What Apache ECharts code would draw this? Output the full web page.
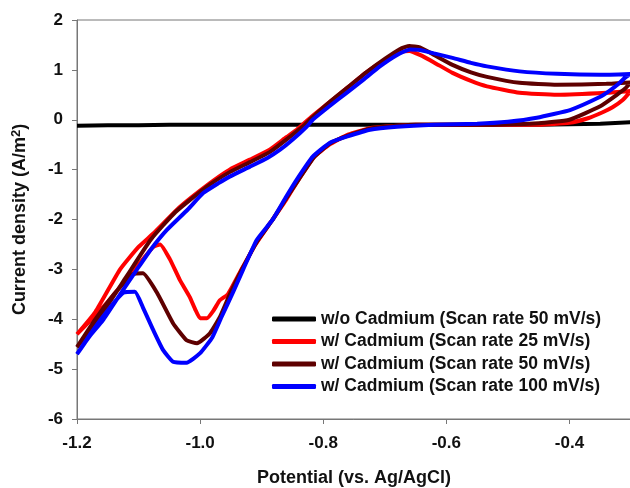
<!DOCTYPE html>
<html>
<head>
<meta charset="utf-8">
<script src="https://cdn.jsdelivr.net/npm/echarts@6/dist/echarts.min.js"></script>
<style>
  html, body { margin: 0; padding: 0; background: #fff; }
  #main { width: 630px; height: 488px; }
</style>
</head>
<body>
<div id="main"></div>
<script>
// 数据: 每条曲线 [电位 V, 电流密度 A/m2], 按扫描顺序
var names = [
  'w/o Cadmium (Scan rate 50 mV/s)',
  'w/ Cadmium (Scan rate 25 mV/s)',
  'w/ Cadmium (Scan rate 50 mV/s)',
  'w/ Cadmium (Scan rate 100 mV/s)'
];
var colors = ['#000000', '#ff0000', '#5e0000', '#0000ff'];

var noCd50 = [
  [-1.2, -0.12], [-1.15, -0.11], [-1.1, -0.11], [-1.05, -0.1], [-1.0, -0.1],
  [-0.95, -0.1], [-0.9, -0.1], [-0.85, -0.1], [-0.8, -0.1], [-0.75, -0.1],
  [-0.7, -0.1], [-0.6, -0.1], [-0.5, -0.1], [-0.45, -0.1], [-0.4, -0.09],
  [-0.35, -0.08], [-0.3, -0.05]
];

var cd25 = [
  [-0.3, 0.58], [-0.313, 0.4], [-0.33, 0.25], [-0.346, 0.15], [-0.37, 0.03],
  [-0.4, -0.06], [-0.45, -0.1], [-0.55, -0.1], [-0.65, -0.1], [-0.72, -0.16],
  [-0.76, -0.3], [-0.79, -0.5], [-0.815, -0.75], [-0.84, -1.2], [-0.86, -1.6],
  [-0.885, -2.05], [-0.91, -2.5], [-0.935, -3.05], [-0.955, -3.5], [-0.968, -3.62],
  [-0.978, -3.82], [-0.989, -3.98], [-1.0, -3.98], [-1.008, -3.8], [-1.017, -3.55],
  [-1.033, -3.21], [-1.049, -2.8], [-1.065, -2.5], [-1.076, -2.55], [-1.09, -2.75],
  [-1.12, -3.2], [-1.15, -3.65], [-1.18, -4.05], [-1.2, -4.3],
  [-1.17, -3.85], [-1.13, -3.0], [-1.1, -2.55], [-1.076, -2.28], [-1.033, -1.75],
  [-0.984, -1.27], [-0.952, -1.0], [-0.919, -0.8], [-0.887, -0.6], [-0.86, -0.35],
  [-0.843, -0.2], [-0.82, 0.05], [-0.79, 0.35], [-0.76, 0.65], [-0.73, 0.95],
  [-0.7, 1.2], [-0.675, 1.35], [-0.66, 1.38], [-0.643, 1.3], [-0.62, 1.15],
  [-0.59, 0.94], [-0.56, 0.78], [-0.534, 0.67], [-0.481, 0.54], [-0.42, 0.5],
  [-0.34, 0.54], [-0.3, 0.58]
];

var cd50 = [
  [-0.3, 0.75], [-0.31, 0.62], [-0.323, 0.5], [-0.35, 0.27], [-0.4, 0.0],
  [-0.45, -0.07], [-0.55, -0.1], [-0.65, -0.1], [-0.72, -0.17], [-0.76, -0.32],
  [-0.79, -0.48], [-0.815, -0.75], [-0.84, -1.2], [-0.86, -1.57], [-0.883, -2.02],
  [-0.908, -2.45], [-0.932, -3.0], [-0.95, -3.45], [-0.968, -3.96], [-0.984, -4.28],
  [-1.005, -4.48], [-1.022, -4.42], [-1.044, -4.08], [-1.07, -3.47], [-1.093, -3.08],
  [-1.11, -3.1], [-1.14, -3.5], [-1.17, -4.0], [-1.2, -4.56],
  [-1.16, -3.9], [-1.12, -3.15], [-1.08, -2.4], [-1.04, -1.85], [-0.99, -1.35],
  [-0.952, -1.05], [-0.919, -0.85], [-0.887, -0.65], [-0.86, -0.4], [-0.83, -0.1],
  [-0.82, 0.02], [-0.79, 0.35], [-0.76, 0.65], [-0.73, 0.95], [-0.7, 1.22],
  [-0.675, 1.42], [-0.66, 1.48], [-0.643, 1.45], [-0.62, 1.3], [-0.59, 1.1],
  [-0.56, 0.95], [-0.534, 0.86], [-0.481, 0.74], [-0.42, 0.7], [-0.34, 0.72],
  [-0.3, 0.75]
];

var cd100 = [
  [-0.3, 0.92], [-0.31, 0.84], [-0.32, 0.72], [-0.335, 0.58], [-0.35, 0.46],
  [-0.398, 0.2], [-0.453, 0.04], [-0.5, -0.04], [-0.55, -0.08], [-0.62, -0.1],
  [-0.68, -0.14], [-0.724, -0.2], [-0.762, -0.34], [-0.789, -0.46], [-0.817, -0.74],
  [-0.843, -1.2], [-0.86, -1.54], [-0.882, -2.0], [-0.908, -2.41], [-0.93, -3.0],
  [-0.947, -3.47], [-0.965, -3.95], [-0.98, -4.36], [-1.0, -4.68], [-1.022, -4.87],
  [-1.044, -4.85], [-1.06, -4.62], [-1.076, -4.22], [-1.093, -3.76], [-1.106, -3.45],
  [-1.125, -3.47], [-1.146, -3.76], [-1.174, -4.22], [-1.2, -4.7],
  [-1.18, -4.35], [-1.158, -4.02], [-1.13, -3.5], [-1.103, -3.01], [-1.08, -2.6],
  [-1.054, -2.21], [-1.02, -1.8], [-0.995, -1.47], [-0.97, -1.27], [-0.952, -1.14],
  [-0.919, -0.94], [-0.89, -0.76], [-0.87, -0.6], [-0.85, -0.4], [-0.827, -0.14],
  [-0.817, 0.0], [-0.79, 0.27], [-0.762, 0.54], [-0.735, 0.8], [-0.708, 1.07],
  [-0.68, 1.3], [-0.659, 1.41], [-0.643, 1.4], [-0.62, 1.33], [-0.59, 1.24],
  [-0.56, 1.14], [-0.534, 1.07], [-0.481, 0.97], [-0.42, 0.92], [-0.35, 0.9],
  [-0.3, 0.92]
];

var allData = [noCd50, cd25, cd50, cd100];

var myChart = echarts.init(document.getElementById('main'));

var font = 'Liberation Sans, Arial, sans-serif';

var series = [];
for (var i = 0; i < allData.length; i++) {
  series.push({
    name: names[i],
    type: 'line',
    data: allData[i],
    symbol: 'none',
    smooth: 0.15,
    lineStyle: { color: colors[i], width: 4 },
    itemStyle: { color: colors[i] }
  });
}

myChart.setOption({
  animation: false,
  backgroundColor: '#fff',
  grid: {
    left: 77,
    right: -1,
    top: 20,
    bottom: 69,
    containLabel: false,
    outerBoundsMode: 'none',
    show: true,
    borderColor: '#777',
    borderWidth: 1
  },
  legend: {
    orient: 'vertical',
    left: 267,
    top: 305,
    icon: 'roundRect',
    itemWidth: 44,
    itemHeight: 5,
    itemGap: 4.5,
    data: names,
    textStyle: {
      color: '#111',
      fontSize: 17.5,
      fontWeight: 'bold',
      fontFamily: font,
      lineHeight: 18
    }
  },
  xAxis: {
    type: 'value',
    min: -1.2,
    max: -0.3,
    interval: 0.2,
    name: 'Potential (vs. Ag/AgCl)',
    nameLocation: 'middle',
    nameGap: 50,
    nameTextStyle: { color: '#111', fontSize: 18, fontWeight: 'bold', fontFamily: font },
    axisLine: { onZero: false, lineStyle: { color: '#777', width: 1 } },
    axisTick: { show: true, length: 5, lineStyle: { color: '#777' } },
    splitLine: { show: false },
    axisLabel: {
      margin: 16,
      showMaxLabel: false,
      color: '#111',
      fontSize: 17,
      fontWeight: 'bold',
      fontFamily: font,
      formatter: function (v) { return v.toFixed(1); }
    }
  },
  yAxis: {
    type: 'value',
    min: -6,
    max: 2,
    interval: 1,
    name: 'Current density (A/m{sup|2})',
    nameLocation: 'middle',
    nameGap: 46,
    nameTextStyle: {
      color: '#111', fontSize: 18, fontWeight: 'bold', fontFamily: font,
      rich: {
        sup: { fontSize: 13, fontWeight: 'bold', fontFamily: font, color: '#111', verticalAlign: 'top', padding: [0, 0, 8, 0] }
      }
    },
    axisLine: { show: true, onZero: false, lineStyle: { color: '#777', width: 1 } },
    axisTick: { show: true, length: 5, lineStyle: { color: '#777' } },
    splitLine: { show: false },
    axisLabel: {
      margin: 14,
      color: '#111',
      fontSize: 17,
      fontWeight: 'bold',
      fontFamily: font
    }
  },
  series: series
});
</script>
</body>
</html>
